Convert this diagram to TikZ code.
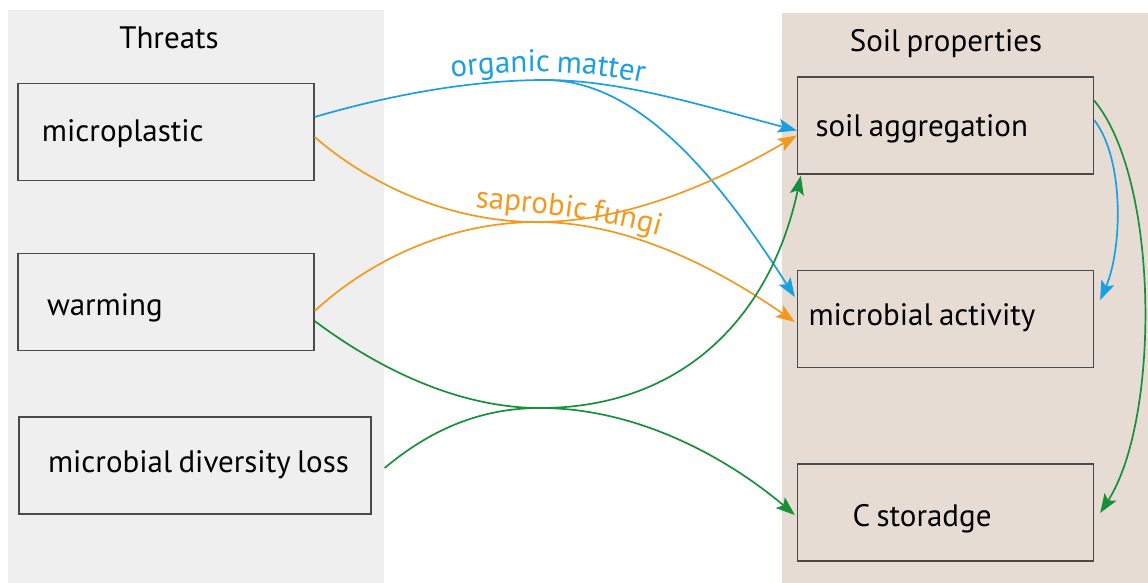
\documentclass[tikz,border=0pt]{standalone}
\usepackage{fontspec}
\setmainfont{PT Sans}[WordSpace=0.78]
\usetikzlibrary{arrows.meta,calc,decorations.text}

\definecolor{paneL}{HTML}{EFEFEF}
\definecolor{paneR}{HTML}{E6DCD4}
\definecolor{edge}{HTML}{4A4A4A}
\definecolor{cblue}{HTML}{1AA0E0}
\definecolor{corange}{HTML}{F29A1F}
\definecolor{cgreen}{HTML}{17903C}

\newcommand\txtsize{\fontsize{31}{36}\selectfont}
% left-set text inside a box of given width, after a given indent
\newcommand\inbox[3]{\makebox[#1][l]{\hspace*{#2}#3}}

\tikzset{
  box/.style={draw=edge, line width=1.3pt, minimum width=296pt, minimum height=97pt,
    inner sep=0pt, font=\txtsize, text depth=6pt},
  heading/.style={font=\txtsize, inner sep=0pt, anchor=base},
  link/.style={line width=1.7pt, -{Stealth[length=19pt,width=14pt,inset=4pt]}},
}

\begin{document}
\begin{tikzpicture}[x=1pt, y=-1pt]
\useasboundingbox (0,0) rectangle (1148,583);

% background panels
\fill[paneL] (8,10) rectangle (384,583);
\fill[paneR] (782,13) rectangle (1148,583);

% headings
\node[heading] (tth) at (169,49) {Threats};
\node[heading] (tsp) at (946,52) {Soil properties};

% threats
\node[box, text height=26pt] (mp) at (166,132) {\inbox{296pt}{24pt}{microplastic}};
\node[box, text height=32pt] (wa) at (166,302) {\inbox{296pt}{29pt}{warming}};
\node[box, text height=19pt, minimum width=352pt] (mdl) at (195,465.5) {\inbox{352pt}{29pt}{microbial diversity loss}};

% soil properties
\node[box, text height=27pt] (sa) at (945.5,125.5) {\inbox{296pt}{18pt}{soil aggregation}};
\node[box, text height=18pt] (ma) at (945.5,319) {\inbox{296pt}{11pt}{microbial activity}};
\node[box, text height=33pt] (cs) at (945.5,512.5) {\inbox{296pt}{55pt}{C storadge}};

% meeting points of the pathways
\coordinate (om) at (545,80);
\coordinate (sf) at (537,222);
\coordinate (gc) at (540,408);

% organic matter pathway
\draw[link, cblue] ($(mp.east)+(0,-15)$) .. controls (400,92) and (480,80) .. (om)
  .. controls (620,80) and (700,105) .. ($(sa.west)+(0,5)$);
\draw[link, cblue] (om) .. controls (640,80) and (720,180) .. ($(ma.west)+(-2,-22)$);

% saprobic fungi pathway
\draw[link, corange] ($(mp.east)+(0,5)$) .. controls (370,185) and (450,222) .. (sf)
  .. controls (630,222) and (720,270) .. ($(ma.west)+(-2,3)$);
\draw[link, corange] ($(wa.east)+(0,9)$) .. controls (370,260) and (450,222) .. (sf)
  .. controls (630,222) and (720,180) .. ($(sa.west)+(0,10)$);

% direct effects
\draw[link, cgreen] ($(wa.east)+(0,19)$) .. controls (380,370) and (460,408) .. (gc)
  .. controls (680,408) and (770,320) .. ($(sa.south west)+(4,1)$);
\draw[link, cgreen] ($(mdl.east)+(13,2.5)$) .. controls (430,430) and (480,408) .. (gc)
  .. controls (640,408) and (730,460) .. ($(cs.west)+(-2,2.5)$);

% links among soil properties
\draw[link, cblue] ($(sa.east)+(0,-5.5)$) .. controls (1125,160) and (1122,250) .. ($(ma.east)+(6,-19)$);
\draw[link, cgreen] ($(sa.east)+(0,-25)$) .. controls (1160,180) and (1160,420) .. ($(cs.east)+(6,0.5)$);

% pathway labels
\path[decorate, decoration={text along path, text align=center, text color=cblue,
  text={|\txtsize|organic matter}}]
  (447,78) .. controls (500,70) and (580,68) .. (648,84);
\path[decorate, decoration={text along path, text align=center, text color=corange,
  text={|\txtsize|saprobic fungi}}]
  (466,206) .. controls (520,212) and (600,217) .. (668,238);
\end{tikzpicture}
\end{document}
